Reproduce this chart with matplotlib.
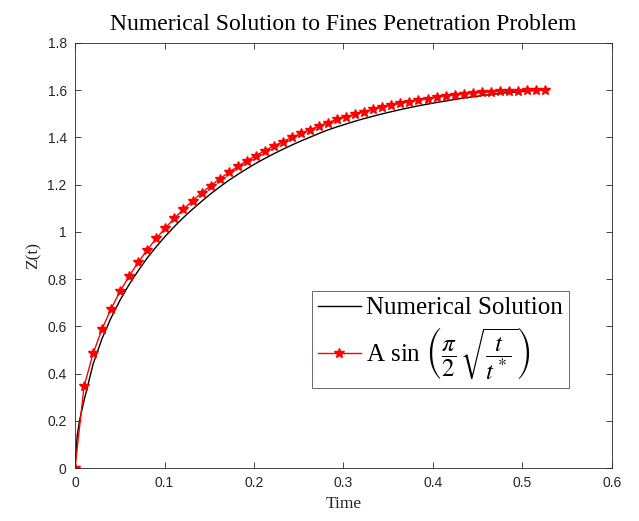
import matplotlib
matplotlib.use("Agg")
import matplotlib.pyplot as plt

plt.rcParams['mathtext.fontset'] = 'stix'

t_fit = [0.0, 0.0101, 0.0202, 0.0303, 0.0404, 0.0505, 0.0606, 0.0707, 0.0808, 0.0909,
         0.1010, 0.1111, 0.1212, 0.1313, 0.1414, 0.1515, 0.1616, 0.1717, 0.1818, 0.1919,
         0.2020, 0.2121, 0.2222, 0.2323, 0.2424, 0.2525, 0.2626, 0.2727, 0.2828, 0.2929,
         0.3030, 0.3131, 0.3232, 0.3333, 0.3434, 0.3535, 0.3636, 0.3737, 0.3838, 0.3939,
         0.4040, 0.4141, 0.4242, 0.4343, 0.4444, 0.4545, 0.4646, 0.4747, 0.4848, 0.4949,
         0.5050, 0.5151, 0.5250]
z_fit = [0.0, 0.3458, 0.4851, 0.5894, 0.6752, 0.7489, 0.8138, 0.8719, 0.9246, 0.9728,
         1.0170, 1.0580, 1.0960, 1.1314, 1.1644, 1.1953, 1.2244, 1.2515, 1.2770, 1.3008,
         1.3231, 1.3443, 1.3641, 1.3826, 1.4002, 1.4169, 1.4329, 1.4484, 1.4627, 1.4762,
         1.4872, 1.4986, 1.5092, 1.5191, 1.5282, 1.5368, 1.5446, 1.5519, 1.5586, 1.5647,
         1.5703, 1.5753, 1.5798, 1.5838, 1.5873, 1.5904, 1.5930, 1.5952, 1.5970, 1.5983,
         1.5993, 1.5998, 1.6000]

# numerical solution
t_num = [0.0, 0.0025, 0.005, 0.0101, 0.0202, 0.0303, 0.0404, 0.0505, 0.0606, 0.0707,
         0.0808, 0.0909, 0.1010, 0.1111, 0.1212, 0.1313, 0.1414, 0.1515, 0.1616, 0.1717,
         0.1818, 0.1919, 0.2020, 0.2121, 0.2222, 0.2323, 0.2424, 0.2525, 0.2626, 0.2727,
         0.2828, 0.2929, 0.3030, 0.3131, 0.3232, 0.3333, 0.3434, 0.3535, 0.3636, 0.3737,
         0.3838, 0.3939, 0.4040, 0.4141, 0.4242, 0.4343, 0.4444, 0.4545, 0.4646, 0.4747,
         0.4848, 0.4949, 0.5050, 0.5151, 0.5250]
z_num = [0.0, 0.14, 0.20, 0.286, 0.440, 0.549, 0.637, 0.712, 0.778, 0.836,
         0.890, 0.938, 0.982, 1.023, 1.061, 1.096, 1.129, 1.161, 1.190, 1.218,
         1.243, 1.267, 1.290, 1.311, 1.331, 1.350, 1.368, 1.385, 1.401, 1.417,
         1.432, 1.445, 1.457, 1.469, 1.480, 1.490, 1.500, 1.509, 1.518, 1.526,
         1.534, 1.541, 1.548, 1.554, 1.561, 1.567, 1.572, 1.577, 1.582, 1.586,
         1.590, 1.593, 1.596, 1.599, 1.600]

dark = '#262626'
serif = ['Liberation Serif', 'DejaVu Serif']

fig = plt.figure(figsize=(6.39, 5.21), dpi=100)
ax = fig.add_axes([0.1174, 0.1017, 0.8403, 0.8158])

ax.plot(t_num, z_num, color='black', lw=1.0, label='Numerical Solution')
ax.plot(t_fit, z_fit, color='red', lw=1.0, marker='*', ms=7,
        label=r'A sin $\left(\dfrac{\pi}{2}\,\sqrt{\dfrac{t}{t^*}}\right)$')

ax.set_xlim(0, 0.6)
ax.set_ylim(0, 1.8)
ax.set_xticks([0, 0.1, 0.2, 0.3, 0.4, 0.5, 0.6])
ax.set_xticklabels(['0', '0.1', '0.2', '0.3', '0.4', '0.5', '0.6'])
ax.set_yticks([0, 0.2, 0.4, 0.6, 0.8, 1, 1.2, 1.4, 1.6, 1.8])
ax.set_yticklabels(['0', '0.2', '0.4', '0.6', '0.8', '1', '1.2', '1.4', '1.6', '1.8'])
ax.tick_params(direction='in', top=True, right=True, length=4, width=0.6,
               colors=dark, labelsize=10, pad=6)
for lab in ax.get_xticklabels() + ax.get_yticklabels():
    lab.set_family(['Liberation Sans', 'DejaVu Sans'])
for s in ax.spines.values():
    s.set_color(dark)
    s.set_linewidth(0.6)

ax.set_xlabel('Time', family=serif, fontsize=12.5, color=dark)
ax.set_ylabel('Z(t)', family=serif, fontsize=12.5, color=dark)
ax.set_title('Numerical Solution to Fines Penetration Problem', family=serif,
             fontsize=17, pad=9)

leg = ax.legend(loc='lower left', bbox_to_anchor=(0.441, 0.188),
                prop={'family': serif, 'size': 18}, fancybox=False,
                edgecolor=dark, handlelength=1.7, handletextpad=0.2,
                borderpad=0.25, labelspacing=0.25, borderaxespad=0)
leg.get_frame().set_linewidth(0.6)

fig.savefig('out.png', dpi=100)
